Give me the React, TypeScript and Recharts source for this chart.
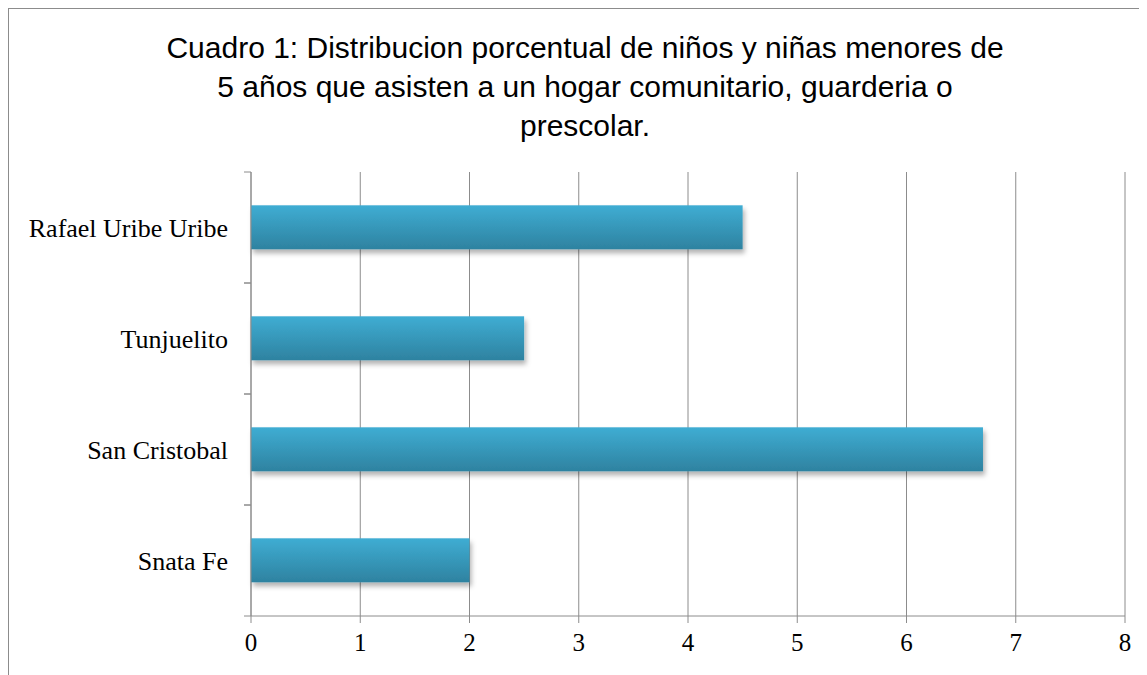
import React from "react";
import { BarChart, Bar, XAxis, YAxis, CartesianGrid } from "recharts";

const titleLines = [
  "Cuadro 1: Distribucion porcentual de niños y niñas menores de",
  "5 años que asisten a un hogar comunitario, guarderia o",
  "prescolar.",
];

const localidades = ["Rafael Uribe Uribe", "Tunjuelito", "San Cristobal", "Snata Fe"];
const porcentajes = [4.5, 2.5, 6.7, 2];
const xTicks = [0, 1, 2, 3, 4, 5, 6, 7, 8];

const data = localidades.map((name, i) => ({ name, value: porcentajes[i] }));

const gray = "#8c8c8c";
const serif = "'Liberation Serif', 'DejaVu Serif', serif";
const labelGap = 23;
const tickLen = 7;

const ShadowBar = (props: any) => {
  const { x, y, width, height } = props;
  return (
    <rect
      x={x}
      y={y}
      width={width}
      height={height}
      fill="url(#barGrad)"
      filter="url(#barShadow)"
    />
  );
};

// category label plus tick marks on the band edges (Excel style)
const CatTick = (props: any) => {
  const { x, y, payload } = props;
  const half = payload.offset ?? 0;
  const ax = x + labelGap;
  return (
    <g>
      <line x1={ax - tickLen} x2={ax} y1={y - half} y2={y - half} stroke={gray} />
      <line x1={ax - tickLen} x2={ax} y1={y + half} y2={y + half} stroke={gray} />
      <text
        x={x}
        y={y}
        dy="0.355em"
        textAnchor="end"
        fill="#000"
        fontFamily={serif}
        fontSize={26}
      >
        {payload.value}
      </text>
    </g>
  );
};

export default function App() {
  return (
    <div style={{ width: 1139, height: 667, overflow: "hidden" }}>
      <div
        style={{
          position: "relative",
          width: 1160,
          height: 680,
          border: `1px solid ${gray}`,
          background: "#fff",
        }}
      >
        {/* title */}
        <div
          style={{
            position: "absolute",
            left: 0,
            top: 19,
            width: 1152,
            textAlign: "center",
            fontFamily: "'Liberation Sans', Arial, sans-serif",
            fontSize: 30,
            lineHeight: "39px",
            color: "#000",
          }}
        >
          {titleLines.map((t) => (
            <div key={t}>{t}</div>
          ))}
        </div>

        <BarChart
          width={1160}
          height={680}
          data={data}
          layout="vertical"
          barCategoryGap="30%"
          margin={{ top: 163, right: 44, bottom: 33, left: 0 }}
        >
          <defs>
            <linearGradient id="barGrad" x1="0" y1="0" x2="0" y2="1">
              <stop offset="0%" stopColor="#3fadd3" />
              <stop offset="100%" stopColor="#2e82a0" />
            </linearGradient>
            <filter id="barShadow" x="-5%" y="-20%" width="115%" height="160%">
              <feDropShadow dx="2" dy="4" stdDeviation="2.5" floodColor="#000" floodOpacity="0.3" />
            </filter>
          </defs>
          <CartesianGrid horizontal={false} stroke={gray} strokeWidth={1} />
          <XAxis
            type="number"
            domain={[0, 8]}
            ticks={xTicks}
            interval={0}
            tickSize={tickLen}
            tickMargin={10}
            height={40}
            stroke={gray}
            tick={{ fill: "#000", fontFamily: serif, fontSize: 25 }}
          />
          <YAxis
            type="category"
            dataKey="name"
            width={242}
            stroke={gray}
            tickLine={false}
            tickSize={0}
            tickMargin={labelGap}
            interval={0}
            tick={CatTick}
          />
          <Bar dataKey="value" shape={ShadowBar} isAnimationActive={false} />
        </BarChart>
      </div>
    </div>
  );
}
